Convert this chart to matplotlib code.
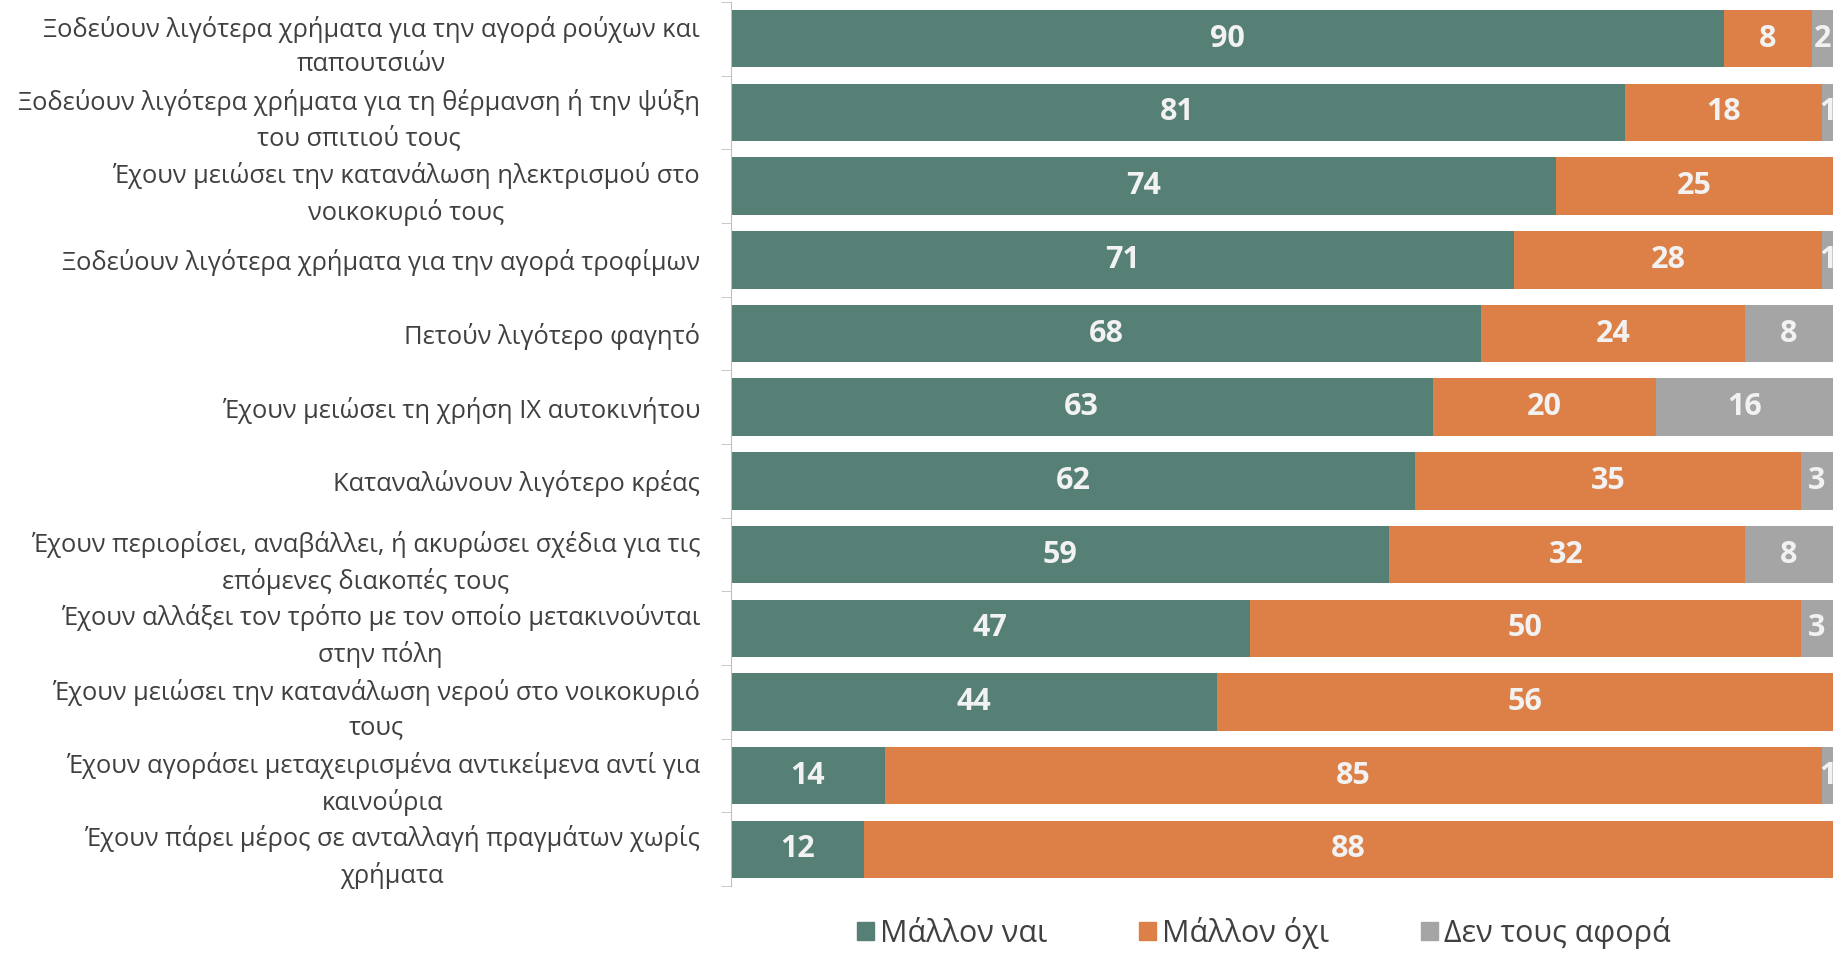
import numpy as np
import matplotlib.pyplot as plt
from matplotlib.patches import Patch

plt.rcParams['font.family'] = ['Open Sans', 'DejaVu Sans']

categories = [
    "Ξοδεύουν λιγότερα χρήματα για την αγορά ρούχων και\nπαπουτσιών",
    "Ξοδεύουν λιγότερα χρήματα για τη θέρμανση ή την ψύξη\nτου σπιτιού τους",
    "Έχουν μειώσει την κατανάλωση ηλεκτρισμού στο\nνοικοκυριό τους",
    "Ξοδεύουν λιγότερα χρήματα για την αγορά τροφίμων",
    "Πετούν λιγότερο φαγητό",
    "Έχουν μειώσει τη χρήση ΙΧ αυτοκινήτου",
    "Καταναλώνουν λιγότερο κρέας",
    "Έχουν περιορίσει, αναβάλλει, ή ακυρώσει σχέδια για τις\nεπόμενες διακοπές τους",
    "Έχουν αλλάξει τον τρόπο με τον οποίο μετακινούνται\nστην πόλη",
    "Έχουν μειώσει την κατανάλωση νερού στο νοικοκυριό\nτους",
    "Έχουν αγοράσει μεταχειρισμένα αντικείμενα αντί για\nκαινούρια",
    "Έχουν πάρει μέρος σε ανταλλαγή πραγμάτων χωρίς\nχρήματα",
]
series_names = ["Μάλλον ναι", "Μάλλον όχι", "Δεν τους αφορά"]

# bar lengths
yes_vals = [90.1, 81.1, 74.9, 71.1, 68.1, 63.7, 62.1, 59.7, 47.1, 44.1, 14.0, 12.1]
no_vals = [8.0, 17.9, 25.1, 27.9, 23.9, 20.2, 35.0, 32.3, 50.0, 55.9, 85.0, 87.9]
na_vals = [1.9, 1.0, 0.0, 1.0, 8.0, 16.1, 2.9, 8.0, 2.9, 0.0, 1.0, 0.0]

# printed labels
yes_labels = [90, 81, 74, 71, 68, 63, 62, 59, 47, 44, 14, 12]
no_labels = [8, 18, 25, 28, 24, 20, 35, 32, 50, 56, 85, 88]
na_labels = [2, 1, None, 1, 8, 16, 3, 8, 3, None, 1, None]

colors = ["#567F75", "#DD8047", "#A5A5A5"]

fig = plt.figure(figsize=(18.45, 9.58), dpi=100)
ax = fig.add_axes([0.396, 0.075, 0.5975, 0.923])

y = np.arange(len(categories))
left = np.zeros(len(categories))
for vals, labs, col in zip([yes_vals, no_vals, na_vals],
                           [yes_labels, no_labels, na_labels], colors):
    vals = np.array(vals)
    ax.barh(y, vals, left=left, height=0.78, color=col, edgecolor='none')
    for i in range(len(y)):
        if labs[i] is None:
            continue
        ax.text(left[i] + vals[i] / 2, y[i], str(labs[i]), ha='center',
                va='center', color='#F2F2F2', fontsize=22, fontweight='bold',
                clip_on=True)
    left = left + vals

ax.set_xlim(0, 100)
ax.set_ylim(len(categories) - 0.5, -0.5)
ax.set_yticks(y)
ax.set_yticklabels(categories, fontsize=18.4, color='#404040',
                   multialignment='center', linespacing=1.48)
ax.tick_params(axis='y', which='major', length=0, pad=22)
ax.set_yticks(np.arange(-0.5, len(categories), 1.0), minor=True)
ax.tick_params(axis='y', which='minor', length=7, color='#BFBFBF')
ax.set_xticks([])
for s in ['top', 'right', 'bottom']:
    ax.spines[s].set_visible(False)
ax.spines['left'].set_color('#BFBFBF')

handles = [Patch(color=c, label=n) for c, n in zip(colors, series_names)]
fig.legend(handles=handles, loc='center', bbox_to_anchor=(0.685, 0.026),
           ncol=3, frameon=False, fontsize=22, handlelength=0.55,
           handleheight=0.55, handletextpad=0.2, columnspacing=3.0,
           labelcolor='#404040')

fig.savefig("out.png", dpi=100)
